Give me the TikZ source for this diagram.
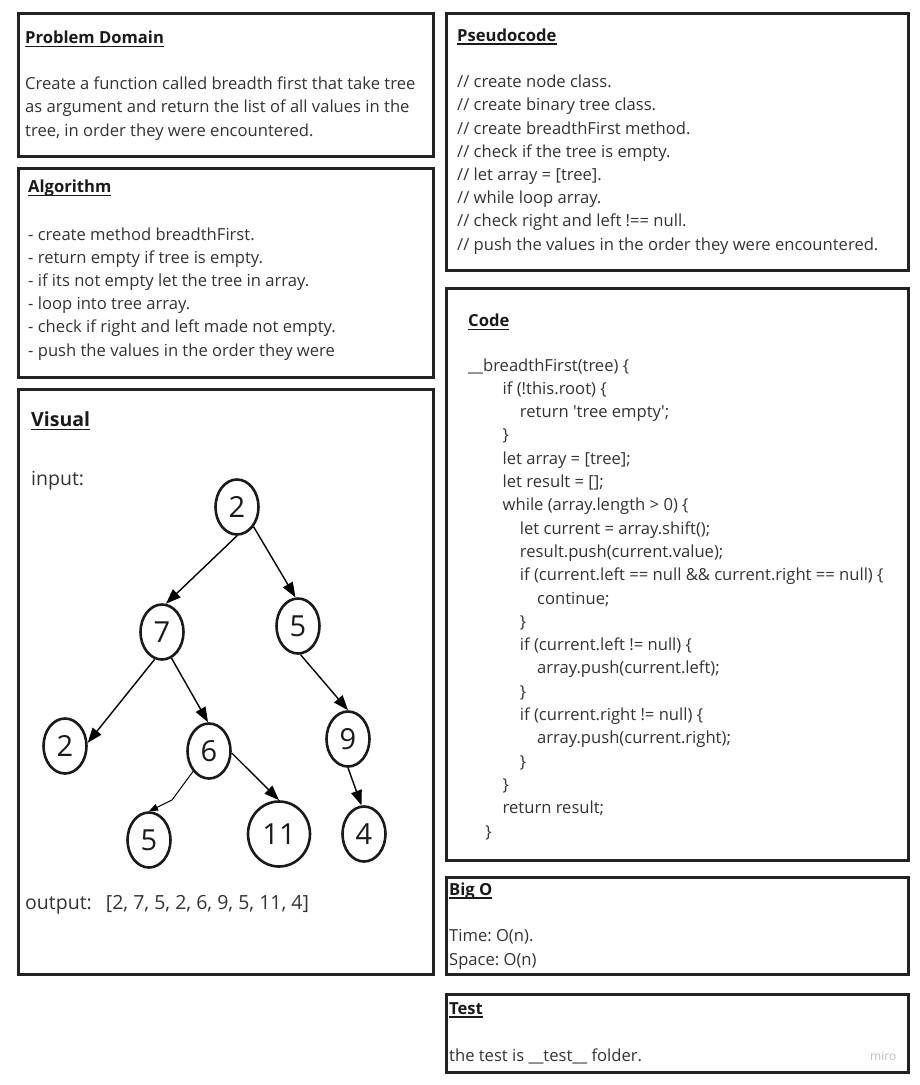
\documentclass[tikz,border=0pt]{standalone}
\usepackage{fontspec}
\setmainfont{Open Sans}
\usetikzlibrary{shapes.geometric,arrows.meta}
\frenchspacing

\definecolor{frame}{RGB}{34,34,34}
\definecolor{ink}{RGB}{51,51,51}
\definecolor{head}{RGB}{26,26,26}
\newcommand{\hd}[1]{\sbox0{#1}\rlap{\rule[-3.7pt]{\wd0}{1.5pt}}\usebox0}

\tikzset{
  panel/.style={draw=frame, line width=3pt},
  txt/.style={anchor=base west, inner sep=0pt, text=ink, font=\fontsize{16.6}{20}\selectfont},
  ttl/.style={txt, text=head, font=\fontsize{16.6}{20}\selectfont\bfseries},
  big/.style={txt, font=\fontsize{19.5}{22}\selectfont},
  vert/.style={ellipse, draw=head, line width=2.6pt, minimum width=43pt, minimum height=55pt,
    inner sep=0pt, text=head, font=\fontsize{29}{30}\selectfont},
  link/.style={draw=black, line width=1.4pt, -{Triangle[length=15pt,width=11pt]}},
  twig/.style={draw=black, line width=1pt, -{Triangle[length=9pt,width=7pt]}},
}

\begin{document}
\begin{tikzpicture}[x=1pt, y=-1pt]
  \fill[white] (0,0) rectangle (920,1085);
  \useasboundingbox (0,0) rectangle (920,1085);

  % panels
  \draw[panel] (18.5,13.5) rectangle (433.5,156);
  \draw[panel] (18.5,168.5) rectangle (433.5,377.5);
  \draw[panel] (18.5,389) rectangle (433.5,974.5);
  \draw[panel] (446,13.5) rectangle (908.5,270);
  \draw[panel] (446,288) rectangle (908.5,860);
  \draw[panel] (446,877.5) rectangle (908.5,974.5);
  \draw[panel] (446,994.5) rectangle (908.5,1072);

  % problem domain
  \node[ttl] (probt) at (25,43.5) {\hd{Problem Domain}};
  \foreach \row [count=\i] in {Create a function called breadth first that take tree,
      as argument and return the list of all values in the, {tree, in order they were encountered.}}
    \node[txt] at (25,{89+23.5*(\i-1)}) {\row};

  % algorithm
  \node[ttl] (algot) at (28,192.7) {\hd{Algorithm}};
  \foreach \row [count=\i] in {- create method breadthFirst., - return empty if tree is empty.,
      - if its not empty let the tree in array., - loop into tree array.,
      - check if right and left made not empty., - push the values in the order they were}
    \node[txt] at (28,{240+23.2*(\i-1)}) {\row};

  % visual
  \node[ttl, font=\fontsize{19.5}{22}\selectfont\bfseries] (vist) at (31,426.7) {\hd{Visual}};
  \node[big] (inp) at (31,485) {input:};
  \node[big] (outp) at (25,909.3) {output:\hspace{9pt} [2, 7, 5, 2, 6, 9, 5, 11, 4]};

  \node[vert] (r) at (237,507) {2};
  \node[vert] (a) at (162,632) {7};
  \node[vert] (b) at (298,626) {5};
  \node[vert] (aa) at (65,746) {2};
  \node[vert] (ab) at (209,751) {6};
  \node[vert] (bb) at (348,739) {9};
  \node[vert] (aba) at (149,840) {5};
  \node[vert, minimum width=62pt, minimum height=65pt] (abb) at (279,834) {11};
  \node[vert] (bba) at (364,834) {4};
  \coordinate (k) at (172,800);

  \draw[link] (r.south) -- (a.82);
  \draw[link] (r.-50) -- (b.95);
  \draw[link] (a.-105) -- (aa.8);
  \draw[link] (a.-70) -- (ab.92);
  \draw[link] (b.-85) -- (bb.north);
  \draw[twig] (ab.-128) -- (k) -- (aba.north);
  \draw[link] (ab.-5) -- (abb.north);
  \draw[link] (bb.south) -- (bba.95);

  % pseudocode
  \node[ttl] (pseut) at (457,41) {\hd{Pseudocode}};
  \foreach \row [count=\i] in {// create node class., // create binary tree class.,
      // create breadthFirst method., // check if the tree is empty., // let array = [tree].,
      // while loop array., // check right and left !== null.,
      // push the values in the order they were encountered.}
    \node[txt] at (457,{87.7+23.2*(\i-1)}) {\row};

  % code
  \node[ttl] (codet) at (468,326.7) {\hd{Code}};
  \foreach \lv/\row [count=\i] in {0/\_\_breadthFirst(tree) \{, 2/if (!this.root) \{,
      3/return \textquotesingle tree empty\textquotesingle;, 2/\}, 2/let array = [tree];,
      2/let result = [];, 2/while (array.length > 0) \{, 3/let current = array.shift();,
      3/result.push(current.value);, 3/if (current.left == null \&\& current.right == null) \{,
      4/continue;, 3/\}, 3/if (current.left != null) \{, 4/array.push(current.left);, 3/\},
      3/if (current.right != null) \{, 4/array.push(current.right);, 3/\}, 2/\},
      2/return result;, 1/\}}
    \node[txt] at ({468+17.25*\lv},{371+23.3*(\i-1)}) {\row};

  % big o
  \node[ttl] (bigot) at (449,895) {\hd{Big O}};
  \node[txt] (time) at (449,941.7) {Time: O(n).};
  \node[txt] (space) at (449,965) {Space: O(n)};

  % test
  \node[ttl] (testt) at (449,1014) {\hd{Test}};
  \node[txt] (tst) at (449,1061) {the test is \_\_test\_\_ folder.};
  \node[txt, text=black!25, font=\fontsize{12}{14}\selectfont] (miro) at (870,1060) {miro};
\end{tikzpicture}
\end{document}
